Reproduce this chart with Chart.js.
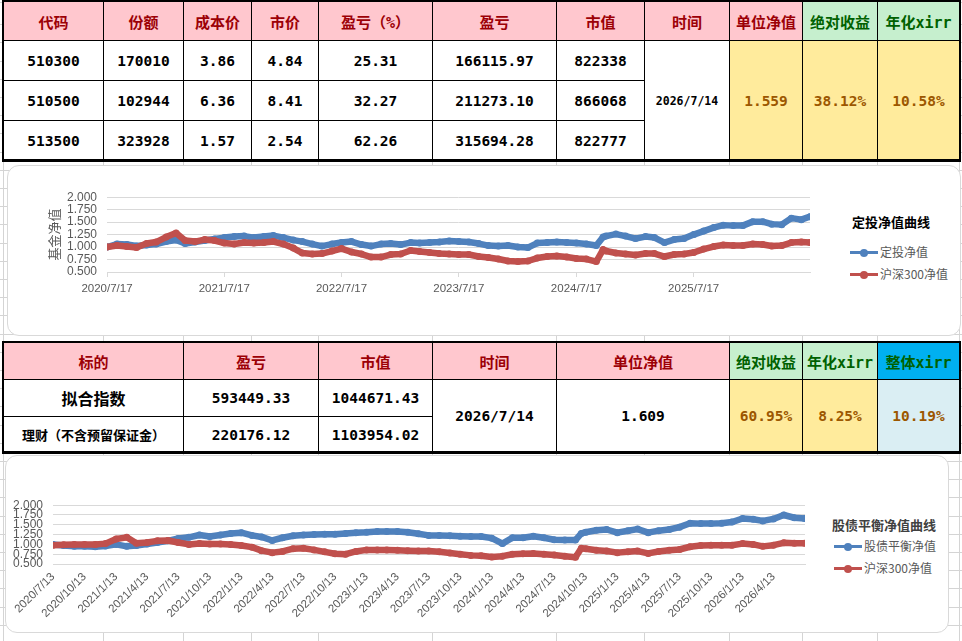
<!DOCTYPE html>
<html>
<head>
<meta charset="utf-8">
<script src="https://cdn.jsdelivr.net/npm/chart.js@4.4.1/dist/chart.umd.min.js"></script>
<style>
html, body { margin: 0; padding: 0; }
body {
    width: 962px; height: 641px; position: relative; overflow: hidden; background: #fff;
    background-image: repeating-linear-gradient(to bottom, transparent 0, transparent 17.2px, #d4d4d4 17.2px, #d4d4d4 18.2px);
    background-position: 0 7px;
}
.vline { position: absolute; top: 0; height: 641px; width: 1px; background: #d4d4d4; }
.cell {
    position: absolute; box-sizing: border-box; border: 1px solid #000;
    display: flex; align-items: center; justify-content: center;
    font-family: 'DejaVu Sans Mono', 'Noto Sans CJK SC', monospace; font-weight: bold;
    font-size: 14.5px; color: #000; background: #fff; white-space: nowrap;
}
.hd { background: #ffc7ce; color: #9c0006; font-size: 15px; }
.gr { background: #c6efce; color: #006100; font-size: 15px; }
.bl { background: #00b0f0; color: #006100; font-size: 15px; }
.yl { background: #ffeb9c; color: #9c5700; }
.lb { background: #daeef3; color: #9c5700; }
.frame { position: absolute; box-sizing: border-box; border: 2px solid #000; border-bottom-width: 3px; }
.box { position: absolute; box-sizing: border-box; border: 1px solid #d9d9d9; border-radius: 12px; background: #fff; }
canvas { position: absolute; }
.lg-title { position: absolute; font-family: 'Noto Sans CJK SC'; font-weight: bold; font-size: 13px; line-height: 16px; white-space: nowrap; }
.lg-item { position: absolute; font-family: 'Noto Sans CJK SC'; font-size: 12px; line-height: 16px; color: #595959; white-space: nowrap; }
.sym { display: inline-block; position: relative; width: 28px; height: 3px; vertical-align: middle; margin-right: 2px; margin-top: -2px; }
.sym b { position: absolute; left: 10px; top: -2.5px; width: 8px; height: 8px; border-radius: 50%; background: inherit; }
</style>
</head>
<body>
<div id="sheet"></div>

<div class="box" style="left:7px;top:165px;width:954px;height:171px;"></div>
<canvas id="fund-chart" width="773" height="127" style="left:42px;top:180px;"></canvas>
<div class="lg-title" style="left:852px;top:214px;color:#000;">定投净值曲线</div>
<div class="lg-item" style="left:850px;top:244px;"><i class="sym" style="background:#4f81bd"><b></b></i>定投净值</div>
<div class="lg-item" style="left:850px;top:266px;"><i class="sym" style="background:#c0504d"><b></b></i>沪深300净值</div>

<div class="box" style="left:5px;top:455px;width:944px;height:178px;"></div>
<canvas id="balance-chart" width="805" height="136" style="left:5px;top:488px;"></canvas>
<div class="lg-title" style="left:832px;top:517px;color:#404040;">股债平衡净值曲线</div>
<div class="lg-item" style="left:834px;top:538px;"><i class="sym" style="background:#4f81bd"><b></b></i>股债平衡净值</div>
<div class="lg-item" style="left:834px;top:560px;"><i class="sym" style="background:#c0504d"><b></b></i>沪深300净值</div>

<script>
// 表格一
const topHeaders = ['代码', '份额', '成本价', '市价', '盈亏（%）', '盈亏', '市值', '时间', '单位净值', '绝对收益', '年化xirr'];
const codes = ['510300', '510500', '513500'];
const shares = ['170010', '102944', '323928'];
const costPrice = ['3.86', '6.36', '1.57'];
const marketPrice = ['4.84', '8.41', '2.54'];
const pnlPct = ['25.31', '32.27', '62.26'];
const pnl = ['166115.97', '211273.10', '315694.28'];
const marketValue = ['822338', '866068', '822777'];
const topDate = '2026/7/14';
const topSummary = ['1.559', '38.12%', '10.58%'];

// 表格二
const bottomHeaders = ['标的', '盈亏', '市值', '时间', '单位净值', '绝对收益', '年化xirr', '整体xirr'];
const targets = ['拟合指数', '理财（不含预留保证金）'];
const targetPnl = ['593449.33', '220176.12'];
const targetValue = ['1044671.43', '1103954.02'];
const bottomDate = '2026/7/14';
const bottomNav = '1.609';
const bottomSummary = ['60.95%', '8.25%', '10.19%'];

// 定投净值曲线
const fundDates = [
    '2020/7/17', '2020/8/17', '2020/9/17', '2020/10/17', '2020/11/17', '2020/12/17',
    '2021/1/17', '2021/2/17', '2021/3/17', '2021/4/17', '2021/5/17', '2021/6/17', '2021/7/17', '2021/8/17', '2021/9/17', '2021/10/17', '2021/11/17', '2021/12/17',
    '2022/1/17', '2022/2/17', '2022/3/17', '2022/4/17', '2022/5/17', '2022/6/17', '2022/7/17', '2022/8/17', '2022/9/17', '2022/10/17', '2022/11/17', '2022/12/17',
    '2023/1/17', '2023/2/17', '2023/3/17', '2023/4/17', '2023/5/17', '2023/6/17', '2023/7/17', '2023/8/17', '2023/9/17', '2023/10/17', '2023/11/17', '2023/12/17',
    '2024/1/17', '2024/2/17', '2024/3/17', '2024/4/17', '2024/5/17', '2024/6/17', '2024/7/17', '2024/8/17', '2024/9/17', '2024/10/8', '2024/10/17', '2024/11/17', '2024/12/17',
    '2025/1/17', '2025/2/17', '2025/3/17', '2025/4/17', '2025/5/17', '2025/6/17', '2025/7/17', '2025/8/17', '2025/9/17', '2025/10/17', '2025/11/17', '2025/12/17',
    '2026/1/17', '2026/2/17', '2026/3/17', '2026/4/17', '2026/5/17', '2026/6/17', '2026/7/14'
];
const fundNav = [
    1.00, 1.06, 1.05, 1.02, 1.04, 1.06,
    1.11, 1.14, 1.07, 1.10, 1.13, 1.16, 1.19, 1.21, 1.22, 1.19, 1.21, 1.23,
    1.19, 1.14, 1.11, 1.06, 1.02, 1.06, 1.09, 1.11, 1.05, 1.02, 1.06, 1.07,
    1.05, 1.09, 1.08, 1.09, 1.10, 1.12, 1.11, 1.10, 1.07, 1.03, 1.02, 1.03,
    1.00, 0.99, 1.08, 1.09, 1.10, 1.09, 1.08, 1.06, 1.03, 1.20, 1.22, 1.26, 1.22,
    1.17, 1.21, 1.19, 1.09, 1.15, 1.17, 1.25, 1.32, 1.39, 1.44, 1.43, 1.43,
    1.51, 1.51, 1.46, 1.45, 1.58, 1.55, 1.61
];
const fundHs300 = [
    1.00, 1.03, 1.01, 0.99, 1.07, 1.10,
    1.20, 1.28, 1.13, 1.11, 1.15, 1.13, 1.08, 1.06, 1.09, 1.08, 1.09, 1.11,
    1.06, 0.98, 0.88, 0.86, 0.87, 0.92, 0.97, 0.90, 0.86, 0.80, 0.80, 0.85,
    0.86, 0.93, 0.91, 0.89, 0.87, 0.86, 0.85, 0.85, 0.81, 0.79, 0.76, 0.72,
    0.71, 0.72, 0.78, 0.81, 0.82, 0.80, 0.77, 0.76, 0.71, 0.95, 0.92, 0.88, 0.86,
    0.84, 0.87, 0.87, 0.81, 0.85, 0.86, 0.89, 0.96, 1.01, 1.04, 1.03, 1.03,
    1.06, 1.05, 1.02, 1.03, 1.09, 1.10, 1.09
];
const fundTicks = ['2020/7/17', '2021/7/17', '2022/7/17', '2023/7/17', '2024/7/17', '2025/7/17'];

// 股债平衡净值曲线
const balanceDates = [
    '2020/7/13', '2020/8/13', '2020/9/13', '2020/10/13', '2020/11/13', '2020/12/13',
    '2021/1/13', '2021/2/13', '2021/3/13', '2021/4/13', '2021/5/13', '2021/6/13', '2021/7/13', '2021/8/13', '2021/9/13', '2021/10/13', '2021/11/13', '2021/12/13',
    '2022/1/13', '2022/2/13', '2022/3/13', '2022/4/13', '2022/5/13', '2022/6/13', '2022/7/13', '2022/8/13', '2022/9/13', '2022/10/13', '2022/11/13', '2022/12/13',
    '2023/1/13', '2023/2/13', '2023/3/13', '2023/4/13', '2023/5/13', '2023/6/13', '2023/7/13', '2023/8/13', '2023/9/13', '2023/10/13', '2023/11/13', '2023/12/13',
    '2024/1/13', '2024/2/13', '2024/3/13', '2024/4/13', '2024/5/13', '2024/6/13', '2024/7/13', '2024/8/13', '2024/9/13', '2024/9/30', '2024/10/13', '2024/11/13', '2024/12/13',
    '2025/1/13', '2025/2/13', '2025/3/13', '2025/4/13', '2025/5/13', '2025/6/13', '2025/7/13', '2025/8/13', '2025/9/13', '2025/10/13', '2025/11/13', '2025/12/13',
    '2026/1/13', '2026/2/13', '2026/3/13', '2026/4/13', '2026/5/13', '2026/6/13', '2026/7/13'
];
const balanceNav = [
    1.00, 0.97, 0.955, 0.95, 0.94, 0.96,
    1.00, 0.95, 0.97, 1.01, 1.05, 1.09, 1.15, 1.18, 1.24, 1.20, 1.24, 1.28,
    1.30, 1.23, 1.19, 1.10, 1.17, 1.22, 1.24, 1.25, 1.26, 1.26, 1.28, 1.30,
    1.31, 1.33, 1.33, 1.33, 1.31, 1.27, 1.23, 1.23, 1.22, 1.21, 1.20, 1.20,
    1.16, 1.02, 1.17, 1.17, 1.21, 1.17, 1.12, 1.11, 1.11, 1.28, 1.31, 1.36, 1.38,
    1.30, 1.35, 1.39, 1.30, 1.35, 1.38, 1.44, 1.54, 1.53, 1.53, 1.54, 1.57,
    1.66, 1.64, 1.60, 1.65, 1.75, 1.68, 1.66
];
const balanceHs300 = [
    0.98, 0.99, 1.00, 1.00, 1.00, 1.02,
    1.14, 1.18, 1.03, 1.05, 1.09, 1.10, 1.05, 1.00, 1.02, 1.01, 1.01, 1.00,
    0.97, 0.93, 0.84, 0.79, 0.82, 0.89, 0.90, 0.86, 0.81, 0.76, 0.75, 0.82,
    0.86, 0.86, 0.86, 0.85, 0.84, 0.83, 0.83, 0.81, 0.78, 0.75, 0.72, 0.71,
    0.68, 0.70, 0.75, 0.76, 0.77, 0.75, 0.73, 0.70, 0.67, 0.90, 0.89, 0.85, 0.83,
    0.79, 0.81, 0.83, 0.77, 0.82, 0.85, 0.87, 0.94, 0.97, 0.98, 0.98, 0.98,
    1.02, 1.00, 0.95, 0.98, 1.04, 1.03, 1.03
];
const balanceTicks = [
    '2020/7/13', '2020/10/13', '2021/1/13', '2021/4/13', '2021/7/13', '2021/10/13',
    '2022/1/13', '2022/4/13', '2022/7/13', '2022/10/13', '2023/1/13', '2023/4/13',
    '2023/7/13', '2023/10/13', '2024/1/13', '2024/4/13', '2024/7/13', '2024/10/13',
    '2025/1/13', '2025/4/13', '2025/7/13', '2025/10/13', '2026/1/13', '2026/4/13'
];

const BLUE = '#4f81bd';
const RED = '#c0504d';
const GRID = '#d9d9d9';
const TEXT = '#595959';

// 工作表网格线
const sheetCols = [3, 103, 183, 251, 318, 432, 556, 644, 729, 802, 877, 959];
const sheet = document.getElementById('sheet');
sheetCols.forEach(x => {
    const d = document.createElement('div');
    d.className = 'vline';
    d.style.left = x + 'px';
    sheet.appendChild(d);
});

function cell(x0, y0, x1, y1, text, cls, extra) {
    const d = document.createElement('div');
    d.className = 'cell ' + (cls || '');
    d.style.left = x0 + 'px';
    d.style.top = y0 + 'px';
    d.style.width = (x1 - x0 + 1) + 'px';
    d.style.height = (y1 - y0 + 1) + 'px';
    if (extra) d.style.cssText += extra;
    d.textContent = text;
    document.body.appendChild(d);
}

function frame(x0, y0, x1, y1) {
    const d = document.createElement('div');
    d.className = 'frame';
    d.style.left = x0 + 'px';
    d.style.top = y0 + 'px';
    d.style.width = (x1 - x0 + 1) + 'px';
    d.style.height = (y1 - y0 + 1) + 'px';
    document.body.appendChild(d);
}

// 表格一
const tCols = [3, 103, 183, 251, 318, 432, 556, 644, 729, 802, 877, 959];
const tRows = [1, 40, 80, 120, 160];
topHeaders.forEach((h, i) => {
    cell(tCols[i], tRows[0], tCols[i + 1], tRows[1], h, i >= 9 ? 'gr' : 'hd');
});
const topColumns = [codes, shares, costPrice, marketPrice, pnlPct, pnl, marketValue];
for (let r = 0; r < 3; r++) {
    topColumns.forEach((col, i) => {
        cell(tCols[i], tRows[r + 1], tCols[i + 1], tRows[r + 2], col[r], '');
    });
}
cell(tCols[7], tRows[1], tCols[8], tRows[4], topDate, '', 'font-size:11.5px;');
topSummary.forEach((v, i) => {
    cell(tCols[8 + i], tRows[1], tCols[9 + i], tRows[4], v, 'yl');
});
frame(2, 0, 960, 161);

// 表格二
const bCols = [3, 183, 318, 432, 556, 729, 802, 877, 959];
const bRows = [342, 379, 416, 452];
bottomHeaders.forEach((h, i) => {
    cell(bCols[i], bRows[0], bCols[i + 1], bRows[1], h, i === 7 ? 'bl' : (i >= 5 ? 'gr' : 'hd'));
});
for (let r = 0; r < 2; r++) {
    cell(bCols[0], bRows[r + 1], bCols[1], bRows[r + 2], targets[r], '',
        r === 0 ? 'font-size:16px;' : 'font-size:13px;');
    cell(bCols[1], bRows[r + 1], bCols[2], bRows[r + 2], targetPnl[r], '');
    cell(bCols[2], bRows[r + 1], bCols[3], bRows[r + 2], targetValue[r], '');
}
cell(bCols[3], bRows[1], bCols[4], bRows[3], bottomDate, '');
cell(bCols[4], bRows[1], bCols[5], bRows[3], bottomNav, '');
bottomSummary.forEach((v, i) => {
    cell(bCols[5 + i], bRows[1], bCols[6 + i], bRows[3], v, i === 2 ? 'lb' : 'yl');
});
frame(2, 341, 960, 453);

// 图表
function toTime(s) {
    const p = s.split('/');
    return new Date(+p[0], +p[1] - 1, +p[2]).getTime();
}

function fmtDate(v) {
    const d = new Date(v);
    return d.getFullYear() + '/' + (d.getMonth() + 1) + '/' + d.getDate();
}

Chart.defaults.font.family = "'Liberation Sans', 'Noto Sans CJK SC', sans-serif";
Chart.defaults.color = TEXT;

function navChart(id, cfg) {
    const series = [
        { label: cfg.names[0], values: cfg.blue, color: BLUE, order: 2 },
        { label: cfg.names[1], values: cfg.red, color: RED, order: 1 }
    ];
    return new Chart(document.getElementById(id), {
        type: 'line',
        data: {
            datasets: series.map(s => ({
                label: s.label,
                order: s.order,
                data: cfg.dates.map((d, i) => ({ x: toTime(d), y: s.values[i] })),
                borderColor: s.color,
                backgroundColor: s.color,
                borderWidth: 6.5,
                pointRadius: 3.5,
                pointBorderWidth: 0,
                pointHoverRadius: 0,
                borderJoinStyle: 'round',
                borderCapStyle: 'round',
                tension: 0
            }))
        },
        options: {
            responsive: false,
            animation: false,
            events: [],
            layout: { padding: cfg.padding },
            plugins: {
                legend: { display: false },
                tooltip: { enabled: false }
            },
            scales: {
                x: {
                    type: 'linear',
                    min: toTime(cfg.dates[0]),
                    max: toTime(cfg.end),
                    afterBuildTicks: ax => {
                        ax.ticks = cfg.ticks.map(t => ({ value: toTime(t) }));
                    },
                    afterFit: ax => { ax.height = cfg.xHeight; },
                    grid: {
                        drawOnChartArea: false,
                        drawTicks: cfg.xTickMarks,
                        tickLength: 5,
                        color: GRID
                    },
                    border: { color: GRID },
                    ticks: {
                        callback: v => fmtDate(v),
                        autoSkip: false,
                        minRotation: cfg.rotation,
                        maxRotation: cfg.rotation,
                        padding: cfg.xPad,
                        color: TEXT,
                        font: { size: 11.5 }
                    }
                },
                y: {
                    min: 0.5,
                    max: 2.0,
                    afterFit: ax => { ax.width = cfg.yWidth; },
                    grid: { color: GRID, drawTicks: false },
                    border: { display: false },
                    ticks: {
                        stepSize: 0.25,
                        autoSkip: false,
                        padding: 10,
                        callback: v => v.toFixed(3),
                        color: TEXT,
                        font: { size: 12 }
                    },
                    title: {
                        display: !!cfg.yTitle,
                        text: cfg.yTitle || '',
                        color: TEXT,
                        padding: { top: 4, bottom: 0 },
                        font: { size: 13, family: 'Noto Sans CJK SC' }
                    }
                }
            }
        }
    });
}

navChart('fund-chart', {
    names: ['定投净值', '沪深300净值'],
    dates: fundDates,
    blue: fundNav,
    red: fundHs300,
    ticks: fundTicks,
    end: '2026/7/14',
    padding: { top: 10, right: 5, bottom: 5, left: 0 },
    xHeight: 30,
    xTickMarks: true,
    xPad: 5,
    rotation: 0,
    yWidth: 65,
    yTitle: '基金净值'
});

navChart('balance-chart', {
    names: ['股债平衡净值', '沪深300净值'],
    dates: balanceDates,
    blue: balanceNav,
    red: balanceHs300,
    ticks: balanceTicks,
    end: '2026/7/14',
    padding: { top: 10, right: 5, bottom: 0, left: 0 },
    xHeight: 60,
    xTickMarks: false,
    xPad: 6,
    rotation: 45,
    yWidth: 48,
    yTitle: ''
});
</script>
</body>
</html>
